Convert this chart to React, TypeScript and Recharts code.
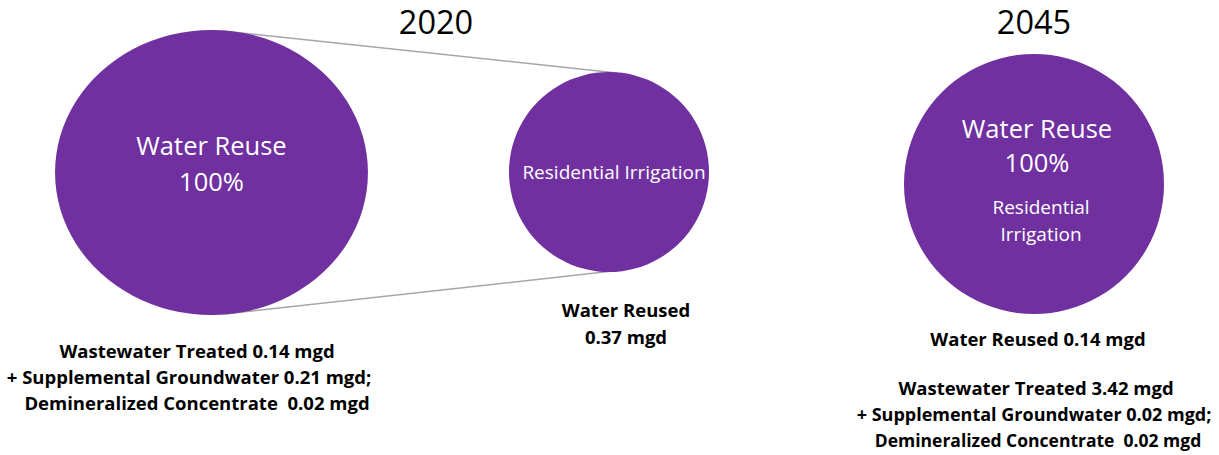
import { PieChart, Pie, Cell, Customized } from "recharts"

const years = ["2020", "2045"]

const reuse2020 = [{ name: "Water Reuse", value: 100 }]
const irrigation2020 = [{ name: "Residential Irrigation", value: 100 }]
const reuse2045 = [{ name: "Water Reuse", value: 100 }]

const reuse2020Text = ["Water Reuse", "100%"]
const irrigation2020Text = ["Residential Irrigation"]
const reuse2045Text = ["Water Reuse", "100%"]
const reuse2045Sub = ["Residential", "Irrigation"]

const caption2020 = [
  "Wastewater Treated 0.14 mgd",
  "+ Supplemental Groundwater 0.21 mgd;",
  "Demineralized Concentrate  0.02 mgd",
]
const reused2020 = ["Water Reused", "0.37 mgd"]
const reused2045 = ["Water Reused 0.14 mgd"]
const caption2045 = [
  "Wastewater Treated 3.42 mgd",
  "+ Supplemental Groundwater 0.02 mgd;",
  "Demineralized Concentrate  0.02 mgd",
]

const PURPLE = "#7030A0"
const FONT = "'Open Sans', Lato, sans-serif"

// circle layout (the left one is a little wider than tall in the original)
const big = { cx: 211.5, cy: 172.5, r: 142.5, sx: 1.098 }
const small = { cx: 609, cy: 172, r: 100 }
const right = { cx: 1034, cy: 184, r: 130 }

function Connectors() {
  return (
    <g>
      <line
        x1={big.cx + 12}
        y1={big.cy - big.r + 1}
        x2={small.cx + 8}
        y2={small.cy - small.r + 1}
        stroke="#A6A6A6"
        strokeWidth={1.5}
      />
      <line
        x1={big.cx + 14}
        y1={big.cy + big.r - 1}
        x2={small.cx + 4}
        y2={small.cy + small.r - 1}
        stroke="#A6A6A6"
        strokeWidth={1.5}
      />
    </g>
  )
}

function Captions() {
  const bold = { fontFamily: FONT, fontWeight: 700, fill: "#000" }
  const rightSizes = [18.5, 18, 17.5]
  const rightX = [1036, 1034, 1038]
  return (
    <g>
      <text x={436} y={34} textAnchor="middle" fontFamily={FONT} fontSize={32.5} fill="#000">
        {years[0]}
      </text>
      <text x={1034} y={34} textAnchor="middle" fontFamily={FONT} fontSize={32.5} fill="#000">
        {years[1]}
      </text>
      {caption2020.map((t, i) => (
        <text key={t} x={i === 1 ? 189 : 197} y={358 + i * 26} textAnchor="middle" style={{ whiteSpace: "pre" }} fontSize={18.5} {...bold}>
          {t}
        </text>
      ))}
      {reused2020.map((t, i) => (
        <text key={t} x={626} y={317 + i * 27} textAnchor="middle" fontSize={18.5} {...bold}>
          {t}
        </text>
      ))}
      {reused2045.map((t) => (
        <text key={t} x={1038} y={346} textAnchor="middle" fontSize={18.5} {...bold}>
          {t}
        </text>
      ))}
      {caption2045.map((t, i) => (
        <text key={t} x={rightX[i]} y={395 + i * 26} textAnchor="middle" style={{ whiteSpace: "pre" }} fontSize={rightSizes[i]} {...bold}>
          {t}
        </text>
      ))}
    </g>
  )
}

const centerLabel = (lines: string[], size: number, dx: number, startDy: number, gap: number, sub?: string[]) =>
  (props: any) => {
    const { cx, cy } = props
    return (
      <g>
        {lines.map((t, i) => (
          <text key={t} x={cx + dx} y={cy + startDy + i * gap} textAnchor="middle" dominantBaseline="central" fill="#fff" fontFamily={FONT} fontSize={size}>
            {t}
          </text>
        ))}
        {sub &&
          sub.map((t, i) => (
            <text key={t} x={cx + 7} y={cy + 23 + i * 27} textAnchor="middle" dominantBaseline="central" fill="#fff" fontFamily={FONT} fontSize={19}>
              {t}
            </text>
          ))}
      </g>
    )
  }

export default function App() {
  return (
    <div style={{ position: "absolute", left: 0, top: 0, background: "#fff" }}>
      <style>{`.big-pie path.recharts-sector { transform: scale(${big.sx}, 1); transform-origin: ${big.cx}px ${big.cy}px; }`}</style>
      <PieChart width={1219} height={455} margin={{ top: 0, right: 0, bottom: 0, left: 0 }}>
        <Customized component={Connectors} />
        <Pie
          className="big-pie"
          data={reuse2020}
          dataKey="value"
          cx={big.cx}
          cy={big.cy}
          outerRadius={big.r}
          startAngle={90}
          endAngle={-270}
          stroke="none"
          isAnimationActive={false}
          labelLine={false}
          label={centerLabel(reuse2020Text, 25.5, 0, -28, 36)}
        >
          <Cell fill={PURPLE} />
        </Pie>
        <Pie
          data={irrigation2020}
          dataKey="value"
          cx={small.cx}
          cy={small.cy}
          outerRadius={small.r}
          startAngle={90}
          endAngle={-270}
          stroke="none"
          isAnimationActive={false}
          labelLine={false}
          label={centerLabel(irrigation2020Text, 19, 5, 0, 0)}
        >
          <Cell fill={PURPLE} />
        </Pie>
        <Pie
          data={reuse2045}
          dataKey="value"
          cx={right.cx}
          cy={right.cy}
          outerRadius={right.r}
          startAngle={90}
          endAngle={-270}
          stroke="none"
          isAnimationActive={false}
          labelLine={false}
          label={centerLabel(reuse2045Text, 25.5, 3, -56, 34, reuse2045Sub)}
        >
          <Cell fill={PURPLE} />
        </Pie>
        <Customized component={Captions} />
      </PieChart>
    </div>
  )
}
